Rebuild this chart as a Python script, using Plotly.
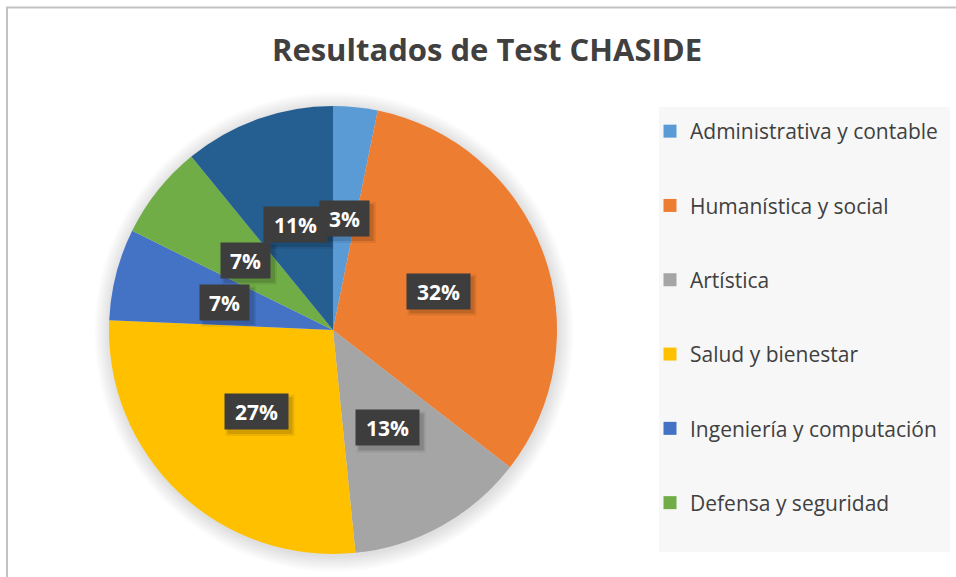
import math
import plotly.graph_objects as go

# ---- data ----
categories = [
    "Administrativa y contable",
    "Humanística y social",
    "Artística",
    "Salud y bienestar",
    "Ingeniería y computación",
    "Defensa y seguridad",
    "Ciencias exactas y agrarias",
]
values = [3.2, 32.3, 12.9, 27.3, 6.6, 6.8, 10.9]
legend_shown = 6  # only the first six entries are visible in the legend
colors = ["#5B9BD5", "#ED7D31", "#A5A5A5", "#FFC000", "#4472C4", "#70AD47", "#255E91"]
title_text = "Resultados de Test CHASIDE"

W, H = 956, 577
FONT = "Open Sans"

# pie geometry (pixels)
cx, cy, R = 333, 330, 224

fig = go.Figure()
fig.add_trace(go.Pie(
    labels=categories,
    values=values,
    sort=False,
    direction="clockwise",
    rotation=0,
    marker=dict(colors=colors, line=dict(width=0)),
    textinfo="none",
    hoverinfo="label+percent",
    showlegend=False,
    domain=dict(x=[(cx - R) / W, (cx + R) / W], y=[1 - (cy + R) / H, 1 - (cy - R) / H]),
))

# legend entries (dummy traces carrying the category colours)
for i in range(legend_shown):
    fig.add_trace(go.Scatter(
        x=[None], y=[None], mode="markers", name=categories[i],
        marker=dict(symbol="square", size=13, color=colors[i]),
        legendgroup=f"g{i}", showlegend=True, hoverinfo="skip",
    ))

shapes = [
    # outer chart border
    dict(type="rect", xref="paper", yref="paper", x0=7 / W, x1=1.05, y0=-0.05, y1=1 - 7.5 / H,
         line=dict(color="#c3c3c3", width=2), fillcolor="rgba(0,0,0,0)", layer="below"),
    # legend background
    dict(type="rect", xref="paper", yref="paper", x0=659 / W, x1=950 / W, y0=1 - 552 / H, y1=1 - 107 / H,
         line=dict(width=0), fillcolor="#f7f7f7", layer="below"),
]
# soft shadow halo around the pie
for k in range(1, 17):
    shapes.append(dict(type="circle", xref="paper", yref="paper",
                       x0=(cx + 1 - R - k) / W, x1=(cx + 1 + R + k) / W,
                       y0=1 - (cy + 2 + R + k) / H, y1=1 - (cy + 2 - R - k) / H,
                       line=dict(width=0), fillcolor="rgba(0,0,0,0.008)", layer="below"))

# percentage labels in dark boxes, positioned from the data
total = sum(values)
cum = 0.0
annotations = []
BOX_H = 27
for v in values:
    mid = (cum + v / 2) / total
    cum += v
    th = 2 * math.pi * mid
    px = cx + 0.5 * R * math.sin(th)
    py = cy - 0.5 * R * math.cos(th)
    txt = f"{round(100 * v / total)}%"
    w = 41 if len(txt) == 2 else 55
    ax, ay = px / W, 1 - py / H
    # box shadow
    for grow, alpha in ((3, 0.07), (1, 0.12)):
        shapes.append(dict(type="rect", xref="paper", yref="paper",
                           xsizemode="pixel", ysizemode="pixel", xanchor=ax, yanchor=ay,
                           x0=-(w / 2 + 4) + 4 - grow, x1=(w / 2 + 4) + 4 + grow,
                           y0=-(BOX_H / 2 + 4) - 4 - grow, y1=(BOX_H / 2 + 4) - 4 + grow,
                           line=dict(width=0), fillcolor=f"rgba(0,0,0,{alpha})", layer="above"))
    annotations.append(dict(text=txt, x=ax, y=ay, xref="paper", yref="paper",
                            xanchor="center", yanchor="middle", showarrow=False,
                            width=w, height=BOX_H, borderpad=4, bgcolor="#3d3d3d",
                            font=dict(family=FONT, size=21, color="white", weight="bold")))

fig.update_layout(
    width=W, height=H,
    margin=dict(l=0, r=0, t=0, b=0),
    paper_bgcolor="white", plot_bgcolor="white",
    xaxis=dict(visible=False), yaxis=dict(visible=False),
    title=dict(text=title_text, x=487 / W, xanchor="center", y=1 - 50 / H, yanchor="middle",
               xref="paper", yref="paper",
               font=dict(family=FONT, size=31, color="#404040", weight="bold")),
    legend=dict(x=650 / W, y=1 - 111 / H, xanchor="left", yanchor="top",
                bgcolor="rgba(0,0,0,0)", tracegroupgap=44,
                font=dict(family=FONT, size=21, color="#404040"), itemclick=False),
    shapes=shapes,
    annotations=annotations,
)

fig.write_html("out.html", config={"displayModeBar": False},
               post_script="document.body.style.margin='0';")
